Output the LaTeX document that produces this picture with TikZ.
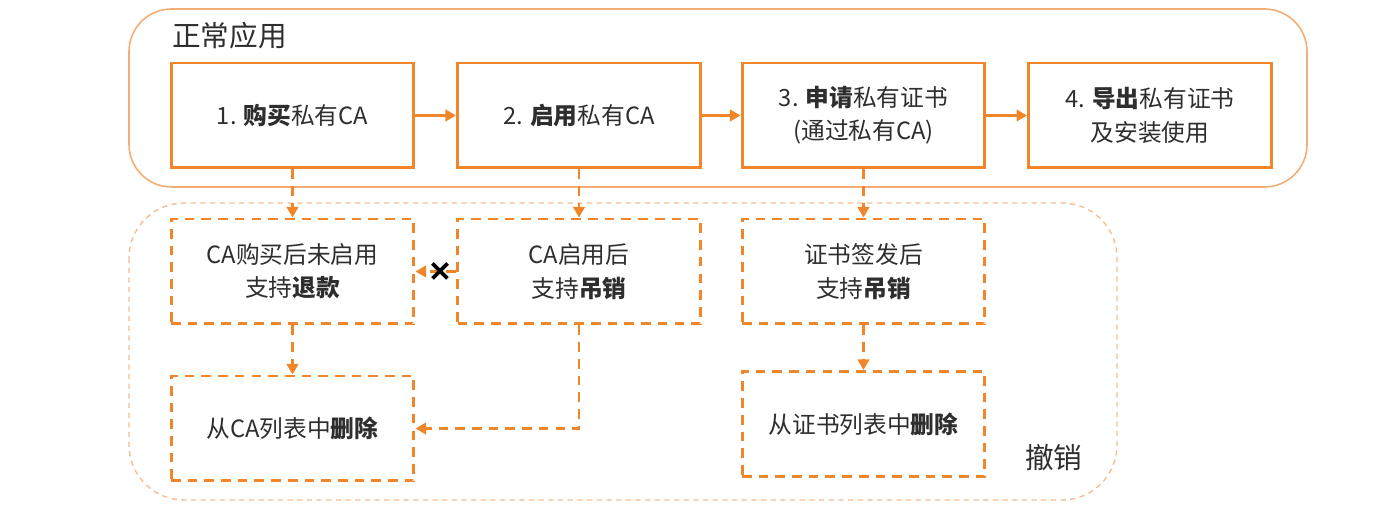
\documentclass[tikz,border=0pt]{standalone}
\usepackage{fontspec}
\setmainfont{Noto Sans CJK SC}
\usetikzlibrary{arrows.meta}
\definecolor{org}{HTML}{F0852A}
\definecolor{lorg}{HTML}{F2AE74}
\definecolor{dorg}{HTML}{F5BE94}
\definecolor{txt}{HTML}{2E2E2E}
\tikzset{
  mainbox/.style={draw=org, line width=1.7pt, minimum width=4.86cm, minimum height=2.1cm, inner sep=0pt, align=center, text=txt, font=\fontsize{13.5}{19}\selectfont},
  revbox/.style={mainbox, dash pattern=on 5.5pt off 4pt},
  solidarrow/.style={draw=org, line width=1.7pt, -{Triangle[length=6pt,width=6.5pt]}},
  dasharrow/.style={draw=org, line width=1.7pt, dash pattern=on 5.5pt off 4pt, -{Triangle[length=6pt,width=6.5pt]}},
  grouplabel/.style={text=txt, font=\fontsize{16.3}{16.3}\selectfont, inner sep=0pt}
}
\begin{document}
\begin{tikzpicture}[x=0.02cm, y=-0.02cm]
\useasboundingbox (0,0) rectangle (1400,519);
% containers
\draw[lorg, line width=0.9pt, rounded corners=0.85cm] (129,9) rectangle (1307,187);
\draw[dorg, line width=0.8pt, dash pattern=on 3pt off 2.5pt, rounded corners=1.1cm] (129,203) rectangle (1117,500);
\node[grouplabel, anchor=west] (tnorm) at (172,36) {正常应用};
\node[grouplabel, anchor=west] (trev) at (1025,458) {撤销};
% top boxes
\node[mainbox] (a1) at (292.5,115.5) {1. \textbf{购买}私有CA};
\node[mainbox] (a2) at (579,115.5) {2. \textbf{启用}私有CA};
\node[mainbox] (a3) at (863.5,115.5) {3. \textbf{申请}私有证书\\(通过私有CA)};
\node[mainbox] (a4) at (1150,115.5) {4. \textbf{导出}私有证书\\及安装使用};
% revoke boxes
\node[revbox] (b1) at (292.5,271.5) {CA购买后未启用\\支持\textbf{退款}};
\node[revbox] (b2) at (579,271.5) {CA启用后\\支持\textbf{吊销}};
\node[revbox] (b3) at (863.5,271.5) {证书签发后\\支持\textbf{吊销}};
\node[revbox] (b4) at (292.5,428.5) {从CA列表中\textbf{删除}};
\node[revbox] (b5) at (863.5,424) {从证书列表中\textbf{删除}};
% arrows
\draw[solidarrow] (a1) -- (a2);
\draw[solidarrow] (a2) -- (a3);
\draw[solidarrow] (a3) -- (a4);
\draw[dasharrow] (a1) -- (b1);
\draw[dasharrow] (a2) -- (b2);
\draw[dasharrow] (a3) -- (b3);
\draw[dasharrow] (b2) -- (b1);
\draw[dasharrow] (b1) -- (b4);
\draw[dasharrow] (b2.south) |- (b4.east);
\draw[dasharrow] (b3) -- (b5);
% cross mark
\coordinate (xm) at (440,271);
\draw[black, line width=2.2pt] ([shift={(-7.5,-7.5)}]xm) -- ([shift={(7.5,7.5)}]xm) ([shift={(-7.5,7.5)}]xm) -- ([shift={(7.5,-7.5)}]xm);
\end{tikzpicture}
\end{document}
